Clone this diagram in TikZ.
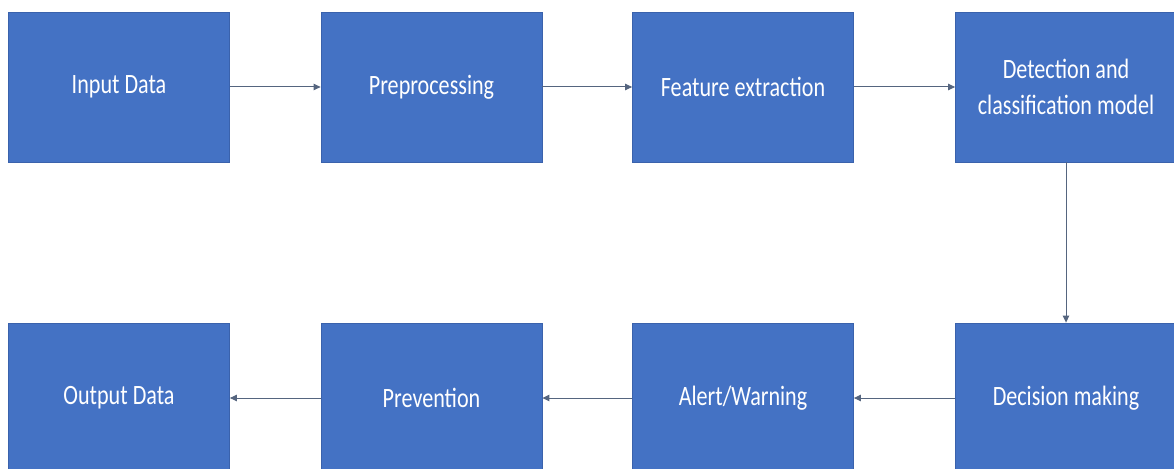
\documentclass[tikz,border=0pt]{standalone}
\usepackage{fontspec}
\setmainfont{Carlito}[FakeStretch=0.79]
\usetikzlibrary{arrows.meta}
\definecolor{boxblue}{HTML}{4472C4}
\definecolor{boxedge}{HTML}{3A62AC}
\definecolor{flow}{HTML}{55657F}
\tikzset{
  stage/.style={rectangle, fill=boxblue, draw=boxedge, line width=0.8pt,
    minimum width=221pt, minimum height=150pt, inner sep=0pt,
    text=white, align=center, font=\fontsize{28}{36}\selectfont},
  flowarrow/.style={draw=flow, line width=1pt,
    -{Triangle[length=7pt,width=6.5pt]}}
}
\begin{document}
\begin{tikzpicture}[x=1pt,y=-1pt]
  \useasboundingbox (0,0) rectangle (1174,468);
  \clip (0,0) rectangle (1174,468);
  % upper row, left to right
  \node[stage] (input)   at (119,87)    {Input Data};
  \node[stage] (prep)    at (431.5,87)  {Preprocessing};
  \node[stage] (feat)    at (743,87)    {Feature extraction};
  \node[stage] (model)   at (1066,87)   {Detection and\\classification model};
  % lower row, right to left
  \node[stage] (decide)  at (1066,398)  {Decision making};
  \node[stage] (alert)   at (743,398)   {Alert/Warning};
  \node[stage] (prevent) at (431.5,398) {Prevention};
  \node[stage] (output)  at (119,398)   {Output Data};
  % connectors
  \draw[flowarrow] (input)  -- (prep);
  \draw[flowarrow] (prep)   -- (feat);
  \draw[flowarrow] (feat)   -- (model);
  \draw[flowarrow] (model)  -- (decide);
  \draw[flowarrow] (decide) -- (alert);
  \draw[flowarrow] (alert)  -- (prevent);
  \draw[flowarrow] (prevent) -- (output);
\end{tikzpicture}
\end{document}
